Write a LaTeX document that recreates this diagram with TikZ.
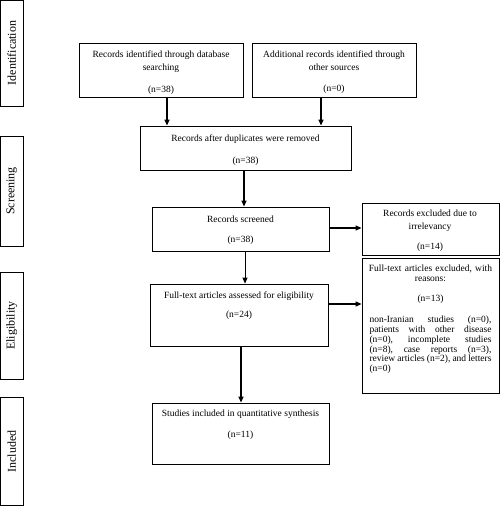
\documentclass[tikz,border=0pt]{standalone}
\usepackage{fontspec}
\setmainfont{Liberation Serif}
\usetikzlibrary{arrows.meta}
\tikzset{
  box/.style={draw=black, line width=0.8pt, minimum width=#1, inner sep=0pt, rectangle},
  side/.style={draw=black, line width=0.8pt, minimum width=23pt, inner sep=0pt, rectangle},
  sidetxt/.style={rotate=90, font=\fontsize{12}{14}\selectfont, inner sep=0pt},
  txt/.style={font=\fontsize{9.5}{13.3}\selectfont, align=center, inner sep=0pt, anchor=north},
  arr/.style={line width=1.4pt, -{Triangle[length=6pt,width=5pt]}},
  arrthin/.style={line width=0.8pt, -{Triangle[length=6pt,width=5pt]}}
}
\begin{document}
\begin{tikzpicture}[x=1pt,y=-1pt]
\useasboundingbox (0,0) rectangle (500,506);
% side boxes
\node[side, minimum height=106pt] (s1) at (11.8,53) {};
\node[side, minimum height=110pt] (s2) at (11.8,191) {};
\node[side, minimum height=107pt] (s3) at (11.8,325.5) {};
\node[side, minimum height=108.5pt] (s4) at (11.8,451.5) {};
\node[sidetxt] at (s1.center) {Identification};
\node[sidetxt] at (s2.center) {Screening};
\node[sidetxt] at (s3.center) {Eligibility};
\node[sidetxt] at (s4.center) {Included};
% main boxes
\node[box=164pt, minimum height=54pt] (b1) at (161,70) {};
\node[box=164pt, minimum height=54pt] (b2) at (334,70) {};
\node[box=211pt, minimum height=44pt] (b3) at (245.5,148) {};
\node[box=177pt, minimum height=44pt] (b4) at (240.5,229) {};
\node[box=137pt, minimum height=52pt] (b5) at (430.5,229) {};
\node[box=178pt, minimum height=62pt] (b6) at (239,315) {};
\node[box=137pt, minimum height=135pt] (b7) at (430.5,325.5) {};
\node[box=177pt, minimum height=61pt] (b8) at (240.5,433.5) {};
% texts
\node[txt, yshift=-8pt] (t1) at (b1.north) {Records identified through database\\searching\\[8.5pt](n=38)};
\node[txt, yshift=-8pt] (t2) at (b2.north) {Additional records identified through\\other sources\\[7pt](n=0)};
\node[txt, yshift=-9pt] (t3) at (b3.north) {Records after duplicates were removed\\[8.5pt](n=38)};
\node[txt, yshift=-9.5pt] (t4) at (b4.north) {Records screened\\[6.5pt](n=38)};
\node[txt, yshift=-7.5pt] (t5) at ([xshift=-0.5pt]b5.north) {Records excluded due to\\[-1pt]irrelevancy\\[7pt](n=14)};
\node[txt, yshift=-8.5pt] (t6) at (b6.north) {Full-text articles assessed for eligibility\\[5.5pt](n=24)};
\node[txt, yshift=-7pt] (t8) at (b8.north) {Studies included in quantitative synthesis\\[7.5pt](n=11)};
\node[txt, yshift=-7pt, text width=122pt, align=left, font=\fontsize{9.5}{9.8}\selectfont] (t7) at (b7.north) {%
\makebox[\linewidth]{Full-text articles excluded, with}\\
\makebox[\linewidth]{reasons:}\\[11pt]
\makebox[\linewidth]{(n=13)}\\[11pt]
non-Iranian\hfill studies\hfill (n=0),\\
patients\hfill with\hfill other\hfill disease\\
(n=0),\hfill incomplete\hfill studies\\
(n=8),\hfill case\hfill reports\hfill (n=3),\\
review\hfill articles\hfill (n=2),\hfill and\hfill letters\\
(n=0)};
% connectors
\draw[arr] ([xshift=6pt]b1.south) -- ([xshift=6pt]b1.south |- b3.north);
\draw[arr] ([xshift=-13pt]b2.south) -- ([xshift=-13pt]b2.south |- b3.north);
\draw[arr] ([xshift=-1.5pt]b3.south) -- ([xshift=-1.5pt]b3.south |- b4.north);
\draw[arrthin] ([xshift=4.5pt]b4.south) -- ([xshift=4.5pt]b4.south |- b6.north);
\draw[arr] ([yshift=1pt]b4.east) -- ([yshift=1pt]b4.east -| b5.west);
\draw[arr] ([yshift=11pt]b6.east) -- ([yshift=11pt]b6.east -| b7.west);
\draw[arr] ([xshift=2pt]b6.south) -- ([xshift=2pt]b6.south |- b8.north);
\end{tikzpicture}
\end{document}
